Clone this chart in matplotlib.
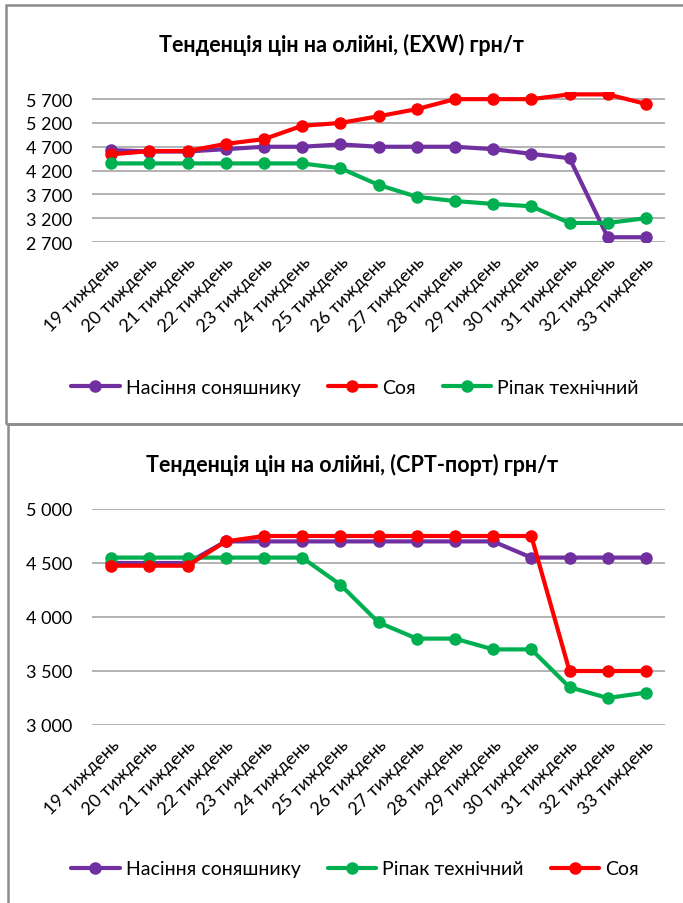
import matplotlib
matplotlib.use("Agg")
import matplotlib.pyplot as plt
from matplotlib.patches import Rectangle
from matplotlib.ticker import FuncFormatter

plt.rcParams['font.family'] = ['Lato', 'Noto Sans', 'DejaVu Sans']

weeks = [f"{w} тиждень" for w in range(19, 34)]

# EXW, грн/т
exw_sunflower = [4630, 4600, 4600, 4650, 4700, 4700, 4750, 4700, 4700, 4700, 4650, 4550, 4460, 2800, 2800]
exw_soy = [4540, 4610, 4610, 4760, 4860, 5140, 5200, 5340, 5490, 5700, 5700, 5700, 5800, 5800, 5600]
exw_rapeseed = [4350, 4350, 4350, 4350, 4350, 4350, 4250, 3900, 3650, 3560, 3500, 3450, 3100, 3100, 3200]

# CPT-порт, грн/т
cpt_sunflower = [4500, 4500, 4500, 4700, 4700, 4700, 4700, 4700, 4700, 4700, 4700, 4550, 4550, 4550, 4550]
cpt_rapeseed = [4550, 4550, 4550, 4550, 4550, 4550, 4300, 3950, 3800, 3800, 3700, 3700, 3350, 3250, 3300]
cpt_soy = [4475, 4475, 4475, 4700, 4750, 4750, 4750, 4750, 4750, 4750, 4750, 4750, 3500, 3500, 3500]

exw_ticks = [2700, 3200, 3700, 4200, 4700, 5200, 5700]
cpt_ticks = [3000, 3500, 4000, 4500, 5000]

PURPLE = '#7030A0'
RED = '#FF0000'
GREEN = '#00B050'
GRID = '#A6A6A6'

W, H = 683, 904
fig = plt.figure(figsize=(W / 100, H / 100), dpi=100)


def px_axes(x0, y_top, x1, y_bot):
    return fig.add_axes([x0 / W, 1 - y_bot / H, (x1 - x0) / W, (y_bot - y_top) / H])


def thousands(v, pos):
    return f"{int(v):,}".replace(",", " ")


def style(ax, ticks, ylim):
    ax.set_ylim(*ylim)
    ax.set_yticks(ticks)
    ax.yaxis.set_major_formatter(FuncFormatter(thousands))
    ax.set_xlim(-0.5, len(weeks) - 0.5)
    ax.set_xticks(range(len(weeks)))
    ax.set_xticklabels(weeks, rotation=45, ha='right', va='top', rotation_mode='anchor')
    ax.grid(axis='y', color=GRID, linewidth=1.2)
    ax.set_axisbelow(True)
    for s in ax.spines.values():
        s.set_visible(False)
    ax.tick_params(length=0, labelsize=13, colors='black')
    ax.tick_params(axis='y', pad=14)
    ax.tick_params(axis='x', pad=8)


def draw(ax, series):
    for vals, color, label in series:
        ax.plot(range(len(weeks)), vals, color=color, linewidth=3, marker='o',
                markersize=8, label=label, solid_capstyle='round')


def legend(ax, y):
    fig.legend(*ax.get_legend_handles_labels(), loc='center', ncol=3,
               bbox_to_anchor=(355 / W, 1 - y / H), frameon=False, fontsize=14,
               handlelength=2.5, columnspacing=1.4, handletextpad=0.3)


# top chart
ax1 = px_axes(92, 93, 665, 243)
draw(ax1, [(exw_sunflower, PURPLE, 'Насіння соняшнику'),
           (exw_soy, RED, 'Соя'),
           (exw_rapeseed, GREEN, 'Ріпак технічний')])
style(ax1, exw_ticks, (2700, 5850))
fig.text(341 / W, 1 - 45 / H, 'Тенденція цін на олійні, (EXW) грн/т',
         ha='center', va='center', fontsize=15.5, fontweight='bold')
legend(ax1, 388)

# bottom chart
ax2 = px_axes(92, 510, 665, 726)
draw(ax2, [(cpt_sunflower, PURPLE, 'Насіння соняшнику'),
           (cpt_rapeseed, GREEN, 'Ріпак технічний'),
           (cpt_soy, RED, 'Соя')])
style(ax2, cpt_ticks, (3000, 5000))
fig.text(352 / W, 1 - 465 / H, 'Тенденція цін на олійні, (CPT-порт) грн/т',
         ha='center', va='center', fontsize=15.5, fontweight='bold')
legend(ax2, 870)

# frames around the two charts
fig.add_artist(Rectangle((6 / W, 1 - 425 / H), 700 / W, 419 / H, transform=fig.transFigure,
                         fill=False, edgecolor='#8C8C8C', linewidth=1.8))
fig.add_artist(Rectangle((8 / W, -20 / H), 700 / W, (904 - 425 + 20) / H, transform=fig.transFigure,
                         fill=False, edgecolor='#8C8C8C', linewidth=1.8))

fig.savefig('out.png', dpi=100)
